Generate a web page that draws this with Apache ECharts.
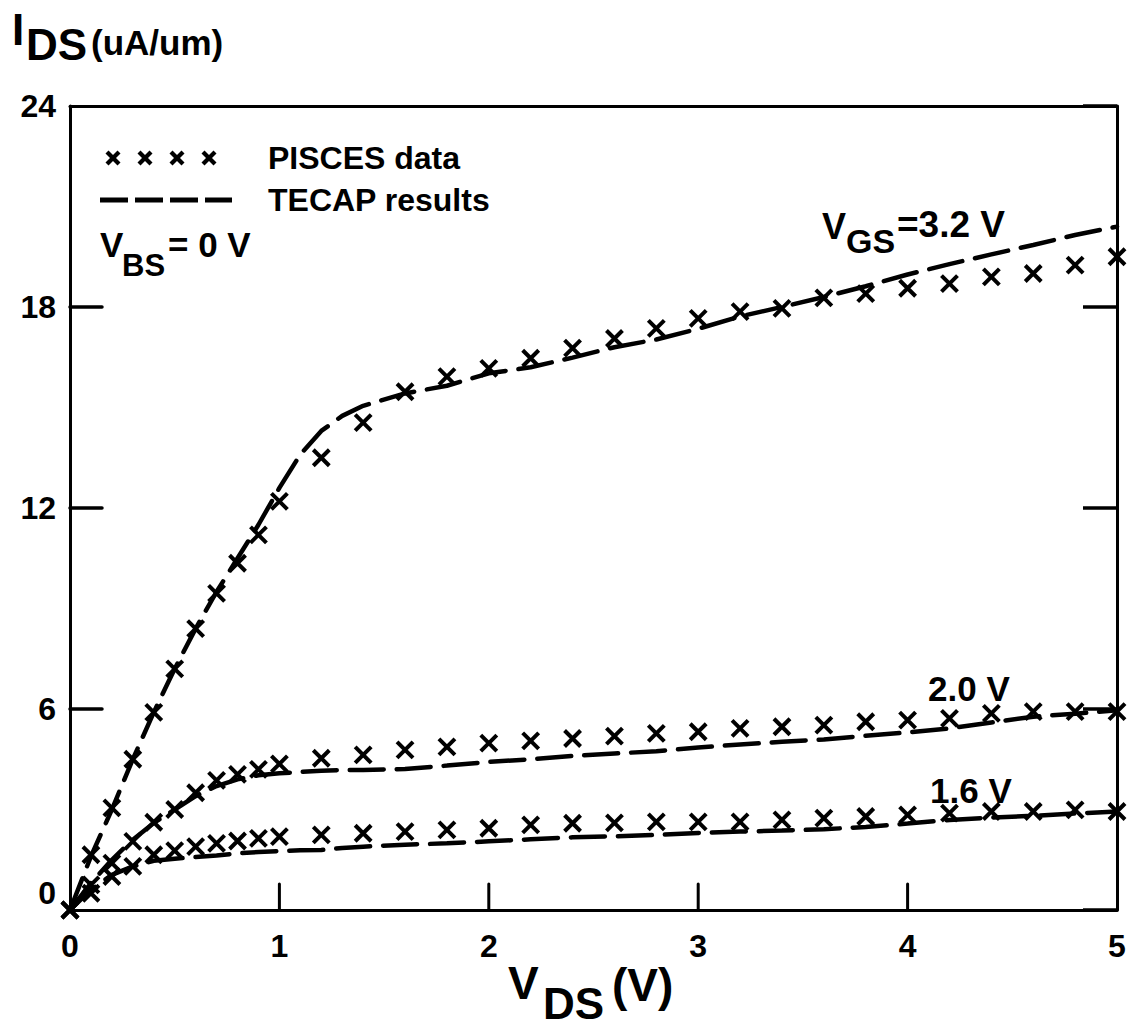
<!DOCTYPE html>
<html>
<head>
<meta charset="utf-8">
<script src="https://cdn.jsdelivr.net/npm/echarts@6/dist/echarts.min.js"></script>
<style>
  html, body { margin: 0; padding: 0; background: #fff; }
  #chart { width: 1140px; height: 1035px; }
</style>
</head>
<body>
<div id="chart"></div>
<script>
// Drain voltage grid of the simulated (PISCES) points, V
const vdsPisces = [0, 0.1, 0.2, 0.3, 0.4, 0.5, 0.6, 0.7, 0.8, 0.9, 1.0,
  1.2, 1.4, 1.6, 1.8, 2.0, 2.2, 2.4, 2.6, 2.8, 3.0,
  3.2, 3.4, 3.6, 3.8, 4.0, 4.2, 4.4, 4.6, 4.8, 5.0];

// PISCES drain current, uA/um
const pisces32 = [0, 1.65, 3.05, 4.5, 5.9, 7.2, 8.4, 9.45, 10.35, 11.2, 12.2,
  13.5, 14.55, 15.47, 15.92, 16.17, 16.47, 16.77, 17.06, 17.36, 17.66,
  17.86, 17.96, 18.27, 18.4, 18.56, 18.7, 18.9, 19.0, 19.25, 19.5];
const pisces20 = [0, 0.75, 1.4, 2.05, 2.62, 3.0, 3.5, 3.87, 4.05, 4.2, 4.36,
  4.53, 4.63, 4.78, 4.87, 4.98, 5.05, 5.12, 5.19, 5.27, 5.32,
  5.42, 5.47, 5.52, 5.62, 5.67, 5.72, 5.87, 5.92, 5.92, 5.92];
const pisces16 = [0, 0.5, 1.0, 1.3, 1.65, 1.77, 1.89, 1.99, 2.06, 2.14, 2.19,
  2.24, 2.29, 2.34, 2.39, 2.44, 2.54, 2.59, 2.6, 2.63, 2.63,
  2.63, 2.69, 2.74, 2.79, 2.84, 2.89, 2.94, 2.94, 2.99, 2.94];

// Drain voltage grid of the TECAP model curves, V
const vdsTecap = [0, 0.1, 0.2, 0.3, 0.4, 0.5, 0.6, 0.7, 0.8, 0.9, 1.0,
  1.1, 1.2, 1.3, 1.4,
  1.6, 1.8, 2.0, 2.2, 2.4, 2.6, 2.8, 3.0, 3.2, 3.4, 3.6, 3.8, 4.0, 4.2, 4.4, 4.6, 4.8, 5.0];

// TECAP drain current, uA/um
const tecap32 = [0, 1.6, 3.0, 4.5, 5.9, 7.2, 8.4, 9.5, 10.5, 11.5, 12.6,
  13.6, 14.3, 14.75, 15.05,
  15.42, 15.65, 16.02, 16.2, 16.49, 16.8, 17.03, 17.35, 17.72, 18.0, 18.3, 18.62, 18.97, 19.28, 19.57, 19.85, 20.15, 20.4];
const tecap20 = [0, 0.8, 1.5, 2.1, 2.6, 3.0, 3.4, 3.7, 3.9, 4.02, 4.08,
  4.12, 4.16, 4.18, 4.18,
  4.21, 4.31, 4.42, 4.5, 4.6, 4.67, 4.74, 4.85, 4.94, 5.02, 5.09, 5.2, 5.3, 5.42, 5.6, 5.77, 5.86, 5.96];
const tecap16 = [0, 0.6, 1.05, 1.3, 1.47, 1.53, 1.58, 1.63, 1.69, 1.73, 1.76,
  1.78, 1.79, 1.85, 1.89,
  1.95, 1.99, 2.05, 2.11, 2.17, 2.2, 2.24, 2.3, 2.34, 2.37, 2.41, 2.48, 2.58, 2.69, 2.76, 2.81, 2.88, 2.94];

// Axis ranges and ticks
const xTicks = { min: 0, max: 5, interval: 1 };
const yTicks = { min: 0, max: 24, interval: 6 };
// inner tick marks on the left and bottom frame
const leftTickValues = [6, 12, 18];
const bottomTickValues = [1, 2, 3, 4];

const FONT = '"Liberation Sans", Arial, Helvetica, sans-serif';
const pair = (xs, ys) => xs.map((x, i) => [x, ys[i]]);

const crossSymbol = 'path://M0,0L10,10M10,0L0,10';
function piscesSeries(name, ys) {
  return {
    name: name, type: 'scatter', z: 4,
    data: pair(vdsPisces, ys),
    symbol: crossSymbol, symbolSize: 16,
    itemStyle: { color: 'rgba(0,0,0,0)', borderColor: '#000', borderWidth: 4, opacity: 1 },
    emphasis: { disabled: true }
  };
}
function tecapSeries(name, ys) {
  return {
    name: name, type: 'line', z: 3,
    data: pair(vdsTecap, ys),
    showSymbol: false, smooth: false,
    lineStyle: { color: '#000', width: 4.5, type: [34, 13], cap: 'round', opacity: 1 },
    emphasis: { disabled: true }
  };
}

// tick marks drawn through the axis scales: [0, y] marks the left side, [x, 0] the bottom
const tickMarkData = leftTickValues.map(v => [xTicks.min, v])
  .concat(bottomTickValues.map(v => [v, yTicks.min]));
const tickSeries = {
  type: 'custom', name: 'ticks', z: 6, silent: true, clip: false,
  data: tickMarkData,
  renderItem: function (params, api) {
    const x = api.value(0), y = api.value(1);
    const p = api.coord([x, y]);
    const onLeft = x === xTicks.min;
    return {
      type: 'line',
      shape: onLeft
        ? { x1: p[0], y1: p[1], x2: p[0] + 32, y2: p[1] }
        : { x1: p[0], y1: p[1], x2: p[0], y2: p[1] - 26 },
      style: { stroke: '#000', lineWidth: onLeft ? 3.5 : 3, lineCap: 'round' }
    };
  }
};

function txt(x, y, text, size, align) {
  return {
    type: 'text', x: x, y: y, z: 10,
    style: {
      text: text, font: 'bold ' + size + 'px ' + FONT, fill: '#000',
      align: align || 'left', verticalAlign: 'middle',
      textAlign: align || 'left', textVerticalAlign: 'middle'
    }
  };
}
function seg(x1, y1, x2, y2, w, dash) {
  return {
    type: 'line', z: 10,
    shape: { x1: x1, y1: y1, x2: x2, y2: y2 },
    style: { stroke: '#000', lineWidth: w, lineDash: dash || null, lineCap: 'butt' }
  };
}

// legend key: four crosses and a dashed stroke
const keyCrosses = [113, 145, 177, 209].flatMap(cx => [
  seg(cx - 6, 152, cx + 6, 164, 4.2),
  seg(cx + 6, 152, cx - 6, 164, 4.2)
]);

const axisFont = { fontFamily: FONT, fontWeight: 'bold', color: '#000' };
const frameLine = { show: true, onZero: false, lineStyle: { color: '#000', width: 3 } };

function xAxisDef(pos, opts) {
  return Object.assign({
    type: 'value', position: pos,
    min: xTicks.min, max: xTicks.max, interval: xTicks.interval,
    splitLine: { show: false }
  }, opts);
}
function yAxisDef(pos, opts) {
  return Object.assign({
    type: 'value', position: pos,
    min: yTicks.min, max: yTicks.max, interval: yTicks.interval,
    splitLine: { show: false }
  }, opts);
}

const chart = echarts.init(document.getElementById('chart'), null, { renderer: 'svg' });
chart.setOption({
  backgroundColor: '#fff',
  animation: false,
  grid: { left: 70, right: 23, top: 106, bottom: 125, containLabel: false },
  xAxis: [
    xAxisDef('bottom', {
      axisLine: frameLine, axisTick: { show: false },
      axisLabel: Object.assign({ show: true, fontSize: 32, margin: 20 }, axisFont)
    }),
    xAxisDef('top', { axisLine: frameLine, axisTick: { show: false }, axisLabel: { show: false } })
  ],
  yAxis: [
    yAxisDef('left', {
      axisLine: frameLine, axisTick: { show: false },
      axisLabel: Object.assign({
        show: true, fontSize: 32, margin: 14,
        formatter: v => (v === 0 ? '{z|0}' : String(v)),
        rich: { z: { fontSize: 32, fontWeight: 'bold', fontFamily: FONT, color: '#000', padding: [0, 0, 34, 0] } }
      }, axisFont)
    }),
    yAxisDef('right', {
      axisLine: frameLine,
      axisTick: { show: true, inside: true, length: 34, lineStyle: { color: '#000', width: 3.5 } },
      axisLabel: { show: false }
    })
  ],
  series: [
    tecapSeries('TECAP 3.2 V', tecap32),
    tecapSeries('TECAP 2.0 V', tecap20),
    tecapSeries('TECAP 1.6 V', tecap16),
    piscesSeries('PISCES 3.2 V', pisces32),
    piscesSeries('PISCES 2.0 V', pisces20),
    piscesSeries('PISCES 1.6 V', pisces16),
    tickSeries
  ],
  graphic: [
    // y axis title
    txt(12, 29, 'I', 44),
    txt(26, 44, 'DS', 44),
    txt(91, 42, '(uA/um)', 35),
    // x axis title
    txt(508, 983, 'V', 46),
    txt(543, 1003, 'DS', 44),
    txt(612, 985, '(V)', 46),
    // legend
    ...keyCrosses,
    seg(100, 200, 232, 200, 5, [28, 7]),
    txt(268, 158, 'PISCES data', 32),
    txt(268, 200, 'TECAP results', 32),
    txt(100, 244, 'V', 35),
    txt(122, 265, 'BS', 31),
    txt(168, 244, '= 0 V', 35),
    // curve labels
    txt(822, 226, 'V', 36),
    txt(846, 241, 'GS', 34),
    txt(897, 224, '=3.2 V', 37),
    txt(928, 688, '2.0 V', 35),
    txt(930, 790, '1.6 V', 35)
  ]
});
</script>
</body>
</html>
